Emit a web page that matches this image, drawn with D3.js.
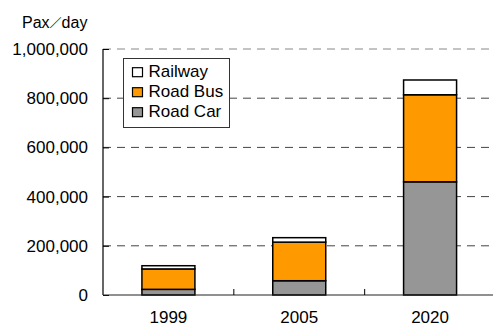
<!DOCTYPE html>
<html>
<head>
<meta charset="utf-8">
<script src="https://cdn.jsdelivr.net/npm/d3@7"></script>
<style>
  html, body { margin: 0; padding: 0; background: #fff; }
  svg { display: block; font-family: "Liberation Sans", Arial, sans-serif; }
</style>
</head>
<body>
<svg id="chart" width="493" height="326"></svg>
<script>
// Daily passenger volume by mode, stacked per year
const years = ["1999", "2005", "2020"];
const roadCar = [23000, 58000, 460000];
const roadBus = [83000, 157000, 354000];
const railway = [13000, 18000, 60000];
const yTicks = [0, 200000, 400000, 600000, 800000, 1000000];
const seriesNames = ["Road Car", "Road Bus", "Railway"];
const seriesColors = { "Road Car": "#969696", "Road Bus": "#FF9900", "Railway": "#FFFFFF" };
const legendOrder = ["Railway", "Road Bus", "Road Car"];

const rows = years.map((y, i) => ({
  year: y,
  "Road Car": roadCar[i],
  "Road Bus": roadBus[i],
  "Railway": railway[i]
}));

const svg = d3.select("#chart");
const plotLeft = 103, plotRight = 495.5, plotTop = 49, plotBottom = 295;
const fontSize = 17;

const x = d3.scaleBand().domain(years).range([plotLeft, plotRight]).paddingInner(0.595).paddingOuter(0.2975);
const y = d3.scaleLinear().domain([0, 1000000]).range([plotBottom, plotTop]);

// Dashed gridlines
svg.append("g")
  .selectAll("line")
  .data(yTicks.filter(t => t > 0))
  .join("line")
  .attr("x1", plotLeft).attr("x2", plotRight)
  .attr("y1", d => y(d)).attr("y2", d => y(d))
  .attr("stroke", d => d === 1000000 ? "#888" : "#444")
  .attr("stroke-width", 1)
  .attr("stroke-dasharray", "8,6");

// Stacked bars
const stack = d3.stack().keys(seriesNames)(rows);
svg.append("g")
  .selectAll("g")
  .data(stack)
  .join("g")
  .attr("fill", d => seriesColors[d.key])
  .selectAll("rect")
  .data(d => d)
  .join("rect")
  .attr("x", d => x(d.data.year))
  .attr("width", x.bandwidth())
  .attr("y", d => y(d[1]))
  .attr("height", d => y(d[0]) - y(d[1]))
  .attr("stroke", "#000")
  .attr("stroke-width", 1.5);

// Y axis: labels left, ticks pointing inward
const yAxis = svg.append("g")
  .attr("transform", `translate(${plotLeft},0)`)
  .call(d3.axisRight(y).tickValues(yTicks).tickSize(6).tickFormat(""));
yAxis.select(".domain").remove();
yAxis.selectAll("line").attr("stroke", "#000");
svg.append("line")
  .attr("x1", plotLeft).attr("x2", plotLeft)
  .attr("y1", plotTop).attr("y2", plotBottom)
  .attr("stroke", "#000").attr("stroke-width", 1.2);

svg.append("g")
  .selectAll("text")
  .data(yTicks)
  .join("text")
  .attr("x", 88)
  .attr("y", d => y(d))
  .attr("dy", "0.35em")
  .attr("text-anchor", "end")
  .attr("font-size", fontSize)
  .attr("fill", "#000")
  .text(d => d3.format(",")(d));

// X axis baseline with inward ticks between categories
svg.append("line")
  .attr("x1", plotLeft).attr("x2", plotRight)
  .attr("y1", plotBottom).attr("y2", plotBottom)
  .attr("stroke", "#222").attr("stroke-width", 1.2);
const step = x.step();
svg.append("g")
  .selectAll("line")
  .data(years.slice(1))
  .join("line")
  .attr("x1", d => x(d) + x.bandwidth() / 2 - step / 2)
  .attr("x2", d => x(d) + x.bandwidth() / 2 - step / 2)
  .attr("y1", plotBottom).attr("y2", plotBottom - 6)
  .attr("stroke", "#000");

svg.append("g")
  .selectAll("text")
  .data(years)
  .join("text")
  .attr("x", d => x(d) + x.bandwidth() / 2)
  .attr("y", 323)
  .attr("text-anchor", "middle")
  .attr("font-size", fontSize)
  .attr("fill", "#000")
  .text(d => d);

// Unit label
const unit = svg.append("text")
  .attr("x", 22).attr("y", 28)
  .attr("font-size", 16)
  .attr("fill", "#000");
unit.append("tspan").text("Pax");
unit.append("tspan").attr("font-size", 12).attr("font-family", "Noto Sans CJK JP").text("／");
unit.append("tspan").text("day");

// Legend
const lg = svg.append("g").attr("transform", "translate(123.5,58.5)");
lg.append("rect")
  .attr("width", 106).attr("height", 69)
  .attr("fill", "#fff").attr("stroke", "#333").attr("stroke-width", 1);
legendOrder.forEach((name, i) => {
  const baseline = 18.2 + i * 20;
  lg.append("rect")
    .attr("x", 9).attr("y", baseline - 9)
    .attr("width", 10).attr("height", 9)
    .attr("fill", seriesColors[name])
    .attr("stroke", "#000").attr("stroke-width", 1.2);
  lg.append("text")
    .attr("x", 25).attr("y", baseline)
    .attr("font-size", fontSize)
    .attr("fill", "#000")
    .text(name);
});
</script>
</body>
</html>
